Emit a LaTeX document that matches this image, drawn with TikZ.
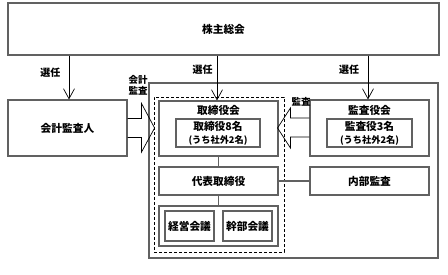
\documentclass[tikz,border=0pt]{standalone}
\usepackage{fontspec}
\setmainfont{Noto Sans CJK JP}
\usetikzlibrary{arrows.meta,calc}
\begin{document}
\begin{tikzpicture}[x=1pt,y=-1pt,
  box/.style={draw=black!62,line width=1.1pt,rectangle,inner sep=0pt,align=center},
  txt/.style={font=\fontsize{10.7}{13}\selectfont\bfseries},
  small/.style={font=\fontsize{9.2}{13}\selectfont\bfseries},
  lbl/.style={inner sep=0pt,font=\fontsize{10}{11}\selectfont\bfseries,align=center},
  sel/.style={draw=black,line width=0.7pt,-{Straight Barb[length=10pt,width=11pt,line width=0.7pt]}},
  blk/.style={draw=black,line width=0.7pt,line join=miter},
  link/.style={draw=black!62,line width=1.1pt}]
\useasboundingbox (0,0) rectangle (448,275);
% boxes
\node[box,txt,minimum width=431pt,minimum height=52pt] (kabu) at (223.5,29) {株主総会};
\node[box,txt,minimum width=119pt,minimum height=56pt] (kaikei) at (67.5,128) {会計監査人};
\node[box,minimum width=289pt,minimum height=175pt] (outer) at (293.5,170.5) {};
\node[draw=black,line width=0.8pt,dash pattern=on 3pt off 2pt,rectangle,inner sep=0pt,minimum width=130pt,minimum height=155pt] (dash) at (219,174.5) {};
\node[box,minimum width=119pt,minimum height=55pt] (tkai) at (218.5,128.5) {};
\node[txt,inner sep=0pt] (tkaiT) at (218.5,110.5) {取締役会};
\node[box,minimum width=84pt,minimum height=28pt] (tin) at (218,133) {};
\node[txt,inner sep=0pt] (tinA) at (218,126.5) {取締役8名};
\node[small,inner sep=0pt] (tinB) at (218,140) {(うち社外2名)};
\node[box,txt,minimum width=119pt,minimum height=28pt] (daihyo) at (218.5,181) {代表取締役};
\node[box,minimum width=119pt,minimum height=40pt] (bottom) at (218.5,226) {};
\node[box,txt,minimum width=49pt,minimum height=30pt] (keiei) at (189.5,226) {経営会議};
\node[box,txt,minimum width=49pt,minimum height=30pt] (kanbu) at (247.5,226) {幹部会議};
\node[box,minimum width=119pt,minimum height=56pt] (kkai) at (369.5,128) {};
\node[txt,inner sep=0pt] (kkaiT) at (369.5,110.5) {監査役会};
\node[box,minimum width=85pt,minimum height=28pt] (kin) at (369.5,133) {};
\node[txt,inner sep=0pt] (kinA) at (369.5,126.5) {監査役3名};
\node[small,inner sep=0pt] (kinB) at (369.5,140) {(うち社外2名)};
\node[box,txt,minimum width=119pt,minimum height=28pt] (naibu) at (369.5,181) {内部監査};
% labels
\node[lbl] (s1) at (50.5,73) {選任};
\node[lbl] (s2) at (202.5,70) {選任};
\node[lbl] (s3) at (349,70) {選任};
\node[lbl,font=\fontsize{9.5}{10.5}\selectfont\bfseries] (ka) at (138,85.5) {会計\\監査};
\node[lbl,font=\fontsize{9.5}{10.5}\selectfont\bfseries] (ks) at (301,101.5) {監査};
% election arrows
\draw[sel] (kabu.south -| 69,0) -- (kaikei.north -| 69,0);
\draw[sel] (kabu.south -| 217,0) -- (tkai.north -| 217,0);
\draw[sel] (kabu.south -| 368,0) -- (kkai.north -| 368,0);
% links
\draw[link] (tkai.south) -- (daihyo.north);
\draw[link] (daihyo.south) -- (bottom.north);
\draw[link] (daihyo.east) -- (naibu.west);
% block arrows
\draw[blk] ($(kaikei.east)+(0,-9.5)$) -- ++(14,0) -- ++(0,-15) -- ($(dash.west |- kaikei.east)+(1,0)$) -- ($(kaikei.east)+(14,24)$) -- ++(0,-14.5) -- ($(kaikei.east)+(0,9.5)$);
\draw[blk] ($(kkai.west)+(0,-10)$) -- ++(-19,0) -- ++(0,-10) -- ($(tkai.east |- kkai.west)+(-1,0)$) -- ($(kkai.west)+(-19,20)$) -- ++(0,-11) -- ($(kkai.west)+(0,9)$);
\end{tikzpicture}
\end{document}
